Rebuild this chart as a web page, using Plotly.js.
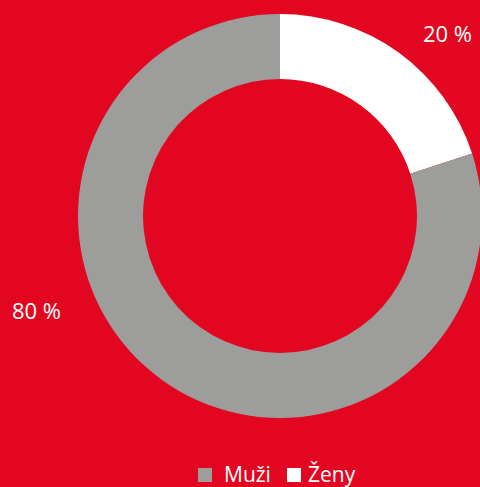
<!DOCTYPE html>
<html><head><meta charset="utf-8">
<script src="https://cdn.plot.ly/plotly-3.0.1.min.js"></script>
<style>html,body{margin:0;padding:0;overflow:hidden;background:#E30620;}</style>
</head><body><div id="chart" style="width:490px;height:487px;"></div>
<script>
const labels = ["Muži", "Ženy"];
const values = [80, 20];
const colors = ["#9D9D9C", "#FFFFFF"];
const labelPos = [[36, 310], [447, 33]]; // label anchor points in px
const legendPos = [[198, 222], [287, 306]]; // square left, text left in px

const W = 490, H = 487;
const order = [1, 0]; // draw Ženy first, clockwise from 12 o'clock
const trace = {
  type: "pie", labels: order.map(i => labels[i]), values: order.map(i => values[i]), sort: false,
  direction: "clockwise", rotation: 0, hole: 0.678,
  marker: {colors: order.map(i => colors[i]), line: {width: 0}},
  textinfo: "none", hoverinfo: "label+percent", showlegend: false,
  domain: {x: [78 / W, 482 / W], y: [(H - 418) / H, (H - 14) / H]}
};
const font = {family: "Open Sans", size: 22, color: "#FFFFFF"};
const annotations = labels.map((l, i) => ({
  text: values[i] + " %", xref: "paper", yref: "paper",
  x: labelPos[i][0] / W, y: 1 - labelPos[i][1] / H,
  showarrow: false, xanchor: "center", yanchor: "middle", font: font
})).concat(labels.map((l, i) => ({
  text: l, xref: "paper", yref: "paper",
  x: legendPos[i][1] / W, y: 1 - 474 / H,
  showarrow: false, xanchor: "left", yanchor: "middle",
  font: {family: "Open Sans", size: 21, color: "#FFFFFF"}
})));
const shapes = labels.map((l, i) => ({
  type: "rect", xref: "paper", yref: "paper",
  x0: legendPos[i][0] / W, x1: (legendPos[i][0] + 14) / W,
  y0: 1 - 482 / H, y1: 1 - 468 / H,
  fillcolor: colors[i], line: {width: 0}
}));
Plotly.newPlot("chart", [trace], {
  width: W, height: H, margin: {l: 0, r: 0, t: 0, b: 0},
  paper_bgcolor: "#E30620", plot_bgcolor: "#E30620",
  showlegend: false, annotations: annotations, shapes: shapes
}, {displayModeBar: false, staticPlot: true});
</script></body></html>
